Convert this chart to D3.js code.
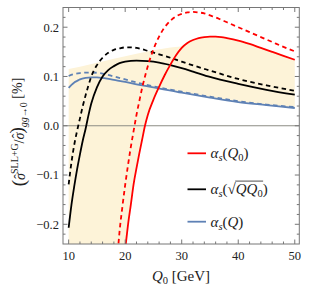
<!DOCTYPE html>
<html>
<head>
<meta charset="utf-8">
<script src="https://cdn.jsdelivr.net/npm/d3@7"></script>
<style>
  body { margin: 0; background: #fff; }
  svg text { font-family: "Liberation Serif", "Times New Roman", serif; }
</style>
</head>
<body>
<div id="chart"></div>
<script>
// curves (Q0 in GeV, ratio in %)
const redSolidX = [20, 20.5, 21, 21.5, 22, 22.5, 23, 23.5, 24, 25, 26, 27, 28, 29, 30, 31, 32, 33, 34, 35, 36, 37, 38, 40, 42, 44, 46, 48, 50];
const redSolid = [-0.25, -0.201, -0.16, -0.118, -0.086, -0.056, -0.028, 0.0, 0.022, 0.053, 0.079, 0.103, 0.124, 0.143, 0.158, 0.168, 0.174, 0.178, 0.18, 0.181, 0.181, 0.18, 0.178, 0.173, 0.166, 0.158, 0.15, 0.142, 0.134];

const redDashX = [18.7, 19, 19.5, 20, 20.5, 21, 21.5, 22, 22.5, 23, 23.5, 24, 25, 26, 27, 28, 29, 30, 31, 32, 33, 34, 35, 36, 37, 38, 40, 42, 44, 46, 48, 50];
const redDash = [-0.255, -0.215, -0.165, -0.12, -0.08, -0.043, -0.01, 0.022, 0.05, 0.077, 0.1, 0.121, 0.155, 0.181, 0.2, 0.213, 0.222, 0.227, 0.23, 0.231, 0.23, 0.228, 0.224, 0.22, 0.215, 0.21, 0.2, 0.19, 0.18, 0.17, 0.16, 0.151];

const blackSolidX = [10, 10.5, 11, 11.5, 12, 12.5, 13, 13.5, 14, 15, 16, 17, 18, 19, 20, 22, 24, 26, 28, 30, 32, 35, 40, 45, 50];
const blackSolid = [-0.207, -0.16, -0.122, -0.088, -0.058, -0.03, -0.006, 0.021, 0.045, 0.078, 0.1, 0.113, 0.121, 0.127, 0.13, 0.132, 0.131, 0.128, 0.123, 0.117, 0.11, 0.099, 0.085, 0.073, 0.063];

const blackDashX = [10, 10.5, 11, 11.5, 12, 12.5, 13, 13.5, 14, 15, 16, 17, 18, 19, 20, 21, 22, 24, 26, 28, 30, 35, 40, 45, 50];
const blackDash = [-0.119, -0.074, -0.038, -0.01, 0.015, 0.04, 0.062, 0.082, 0.1, 0.123, 0.138, 0.148, 0.154, 0.157, 0.159, 0.159, 0.158, 0.152, 0.145, 0.138, 0.13, 0.112, 0.095, 0.082, 0.071];

const blueSolidX = [10, 10.5, 11, 11.5, 12, 13, 14, 15, 16, 18, 20, 22, 25, 30, 35, 40, 45, 50];
const blueSolid = [0.077, 0.083, 0.088, 0.091, 0.094, 0.097, 0.098, 0.098, 0.097, 0.093, 0.089, 0.084, 0.078, 0.067, 0.057, 0.048, 0.042, 0.036];

const blueDashX = [10, 11, 12, 13, 14, 16, 18, 20, 22, 25, 30, 35, 40, 45, 50];
const blueDash = [0.101, 0.105, 0.107, 0.108, 0.108, 0.106, 0.1, 0.094, 0.088, 0.08, 0.069, 0.059, 0.05, 0.043, 0.038];

// shaded band edges
const bandTopX = [10, 12, 15, 18, 20, 22, 25, 28, 29.8, 31, 32, 33, 34, 35, 36, 37, 38, 40, 42, 44, 46, 48, 50];
const bandTop = [0.115, 0.12, 0.128, 0.136, 0.141, 0.146, 0.153, 0.159, 0.161, 0.168, 0.174, 0.178, 0.18, 0.181, 0.181, 0.18, 0.178, 0.173, 0.166, 0.158, 0.15, 0.142, 0.134];
const bandBotX = [10, 20.1, 20.5, 21, 21.5, 22, 22.5, 23, 23.5, 24, 25, 25.9, 26, 28, 30, 32, 35, 40, 45, 50];
const bandBot = [-0.3, -0.3, -0.201, -0.16, -0.118, -0.086, -0.056, -0.028, 0.0, 0.022, 0.053, 0.077, 0.076, 0.072, 0.067, 0.063, 0.057, 0.048, 0.042, 0.036];

const xTicks = [10, 20, 30, 40, 50];
const yTicks = [-0.2, -0.1, 0.0, 0.1, 0.2];

const width = 309, height = 296;
const pLeft = 63, pRight = 299.3, pTop = 7.5, pBottom = 244;

const svg = d3.select("#chart").append("svg")
  .attr("width", width).attr("height", height)
  .attr("font-family", "'Liberation Serif', 'Times New Roman', serif");

const x = d3.scaleLinear().domain([9.0, 50.8]).range([pLeft, pRight]);
const y = d3.scaleLinear().domain([-0.24, 0.24]).range([pBottom, pTop]);

svg.append("clipPath").attr("id", "clip")
  .append("rect").attr("x", pLeft).attr("y", pTop)
  .attr("width", pRight - pLeft).attr("height", pBottom - pTop);

const plot = svg.append("g").attr("clip-path", "url(#clip)");

// band
const topPts = bandTopX.map((d, i) => [x(d), y(bandTop[i])]);
const botPts = bandBotX.map((d, i) => [x(d), y(bandBot[i])]).reverse();
plot.append("path")
  .attr("d", d3.line()(topPts.concat(botPts)) + "Z")
  .attr("fill", "#fdf3d8");

// zero line
plot.append("line")
  .attr("x1", pLeft).attr("x2", pRight)
  .attr("y1", y(0)).attr("y2", y(0))
  .attr("stroke", "#8c8c84").attr("stroke-width", 1.2);

const line = d3.line().curve(d3.curveMonotoneX);
function curve(xs, ys, color, dashed) {
  plot.append("path")
    .attr("d", line(xs.map((d, i) => [x(d), y(ys[i])])))
    .attr("fill", "none")
    .attr("stroke", color)
    .attr("stroke-width", 1.8)
    .attr("stroke-dasharray", dashed ? "4.5,3.5" : null);
}
const blue = "#5e81b5";
curve(blueDashX, blueDash, blue, true);
curve(blueSolidX, blueSolid, blue, false);
curve(blackDashX, blackDash, "#000", true);
curve(blackSolidX, blackSolid, "#000", false);
curve(redDashX, redDash, "#ff0000", true);
curve(redSolidX, redSolid, "#ff0000", false);

// frame and ticks
const axisColor = "#777";
const ticks = svg.append("g").attr("stroke", axisColor).attr("stroke-width", 1);
d3.range(10, 51, 2).forEach(v => {
  const len = v % 10 === 0 ? 4.5 : 2.5;
  ticks.append("line").attr("x1", x(v)).attr("x2", x(v)).attr("y1", pBottom).attr("y2", pBottom - len);
  ticks.append("line").attr("x1", x(v)).attr("x2", x(v)).attr("y1", pTop).attr("y2", pTop + len);
});
d3.range(-22, 23, 2).forEach(k => {
  const v = k / 100;
  const len = k % 10 === 0 ? 4.5 : 2.5;
  ticks.append("line").attr("x1", pLeft).attr("x2", pLeft + len).attr("y1", y(v)).attr("y2", y(v));
  ticks.append("line").attr("x1", pRight).attr("x2", pRight - len).attr("y1", y(v)).attr("y2", y(v));
});
svg.append("rect")
  .attr("x", pLeft).attr("y", pTop)
  .attr("width", pRight - pLeft).attr("height", pBottom - pTop)
  .attr("fill", "none").attr("stroke", axisColor).attr("stroke-width", 1);

// tick labels
svg.append("g").selectAll("text").data(xTicks).enter().append("text")
  .attr("x", d => x(d)).attr("y", 259.5)
  .attr("text-anchor", "middle").attr("font-size", 12.5).attr("fill", "#222")
  .text(d => d);
svg.append("g").selectAll("text").data(yTicks).enter().append("text")
  .attr("x", 59).attr("y", d => y(d) + 4.3)
  .attr("text-anchor", "end").attr("font-size", 12.5).attr("fill", "#222")
  .text(d => (d < 0 ? "\u2212" : "") + Math.abs(d).toFixed(1));

// x label
const xl = svg.append("text").attr("x", 181).attr("y", 281)
  .attr("text-anchor", "middle").attr("font-size", 15).attr("fill", "#222");
xl.append("tspan").attr("font-style", "italic").text("Q");
xl.append("tspan").attr("font-size", 10.5).attr("dy", 3).text("0");
xl.append("tspan").attr("dy", -3).text(" [GeV]");

// y label, laid out left to right then rotated and centred on the frame
const yl = svg.append("text")
  .attr("font-size", 14).attr("fill", "#222");
function sigmaHat() {
  yl.append("tspan").attr("font-style", "italic").text("σ");
  yl.append("tspan").attr("dx", -5.6).attr("dy", -1.5).text("\u02C6");
  yl.append("tspan").attr("dx", 0.5).attr("dy", 1.5).text("");
}
yl.append("tspan").attr("font-size", 19).attr("dy", 1).text("(");
yl.append("tspan").attr("dy", -1).text("");
sigmaHat();
yl.append("tspan").attr("font-size", 10).attr("dy", -5.5).text("SLL+G");
yl.append("tspan").attr("dy", 5.5).text("/");
sigmaHat();
yl.append("tspan").attr("font-size", 19).attr("dy", 1).text(")");
yl.append("tspan").attr("font-size", 10).attr("font-style", "italic").attr("dy", 3.5).text("gg");
yl.append("tspan").attr("font-size", 10).text("→0");
yl.append("tspan").attr("dy", -4.5).text(" [%]");
const yb = yl.node().getBBox();
yl.attr("transform", `translate(24,${132 + yb.width / 2 + yb.x}) rotate(-90)`);

// legend
const legend = svg.append("g");
const legendRows = [
  { color: "#ff0000", y: 153.3 },
  { color: "#000", y: 189.3 },
  { color: blue, y: 221.7 }
];
legendRows.forEach(r => {
  legend.append("line").attr("x1", 187.5).attr("x2", 206)
    .attr("y1", r.y).attr("y2", r.y)
    .attr("stroke", r.color).attr("stroke-width", 1.8);
});
function alphaLabel(yy) {
  const t = legend.append("text").attr("x", 210.5).attr("y", yy + 5)
    .attr("font-size", 15).attr("fill", "#222");
  t.append("tspan").attr("font-style", "italic").text("α");
  t.append("tspan").attr("font-style", "italic").attr("font-size", 10.5).attr("dy", 3).text("s");
  t.append("tspan").attr("dy", -3).text("(");
  return t;
}
let t = alphaLabel(153.3);
t.append("tspan").attr("font-style", "italic").text("Q");
t.append("tspan").attr("font-size", 10.5).attr("dy", 3).text("0");
t.append("tspan").attr("dy", -3).text(")");

t = alphaLabel(189.3);
t.append("tspan").text("√");
t.append("tspan").attr("font-style", "italic").text("QQ");
t.append("tspan").attr("font-size", 10.5).attr("dy", 3).text("0");
t.append("tspan").attr("dy", -3).text(")");
// overline of the root: from end of √ to end of the 0
const tn = t.node();
const x0 = tn.getEndPositionOfChar(3).x - 0.5;
const x1 = tn.getEndPositionOfChar(6).x + 0.5;
legend.append("line").attr("x1", x0).attr("x2", x1)
  .attr("y1", 189.3 + 5 - 13.2).attr("y2", 189.3 + 5 - 13.2)
  .attr("stroke", "#222").attr("stroke-width", 0.8);

t = alphaLabel(221.7);
t.append("tspan").attr("font-style", "italic").text("Q");
t.append("tspan").text(")");
</script>
</body>
</html>
